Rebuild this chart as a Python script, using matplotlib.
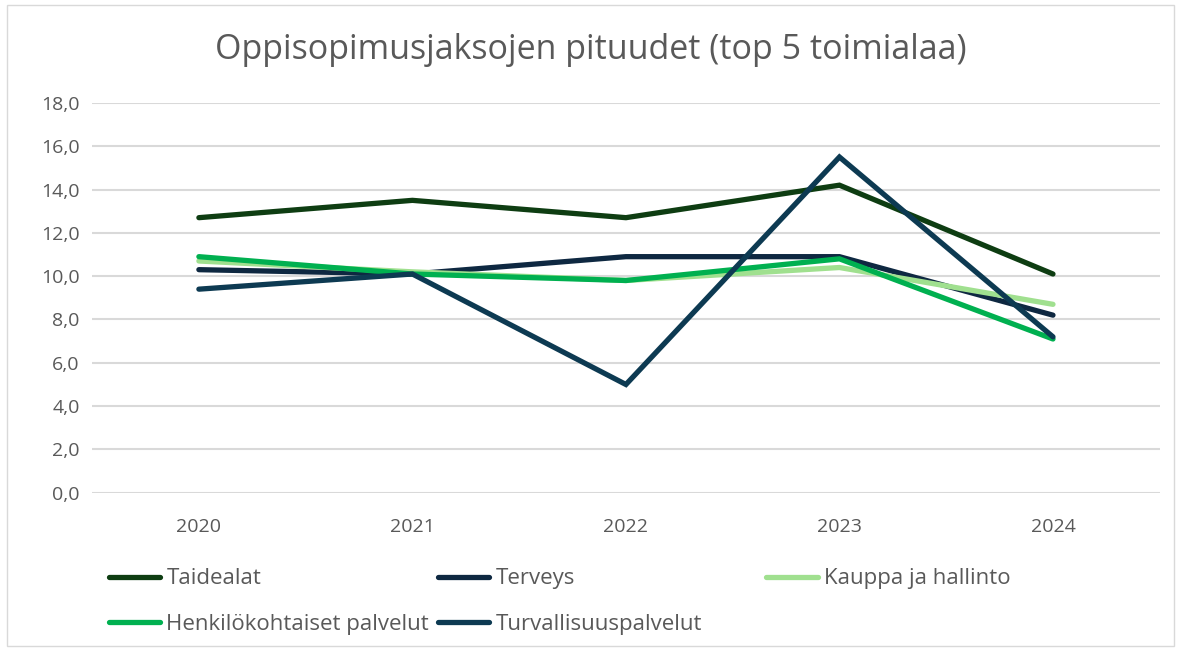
import matplotlib.pyplot as plt
from matplotlib.lines import Line2D
from matplotlib.patches import Rectangle

plt.rcParams['font.family'] = ['Open Sans', 'DejaVu Sans']

years = ['2020', '2021', '2022', '2023', '2024']
taidealat = [12.7, 13.5, 12.7, 14.2, 10.1]
terveys = [10.3, 10.1, 10.9, 10.9, 8.2]
kauppa = [10.7, 10.2, 9.8, 10.4, 8.7]
henkilo = [10.9, 10.1, 9.8, 10.8, 7.1]
turvallisuus = [9.4, 10.1, 5.0, 15.5, 7.2]

series = [
    ('Taidealat', taidealat, '#0e3d12'),
    ('Terveys', terveys, '#0e2841'),
    ('Kauppa ja hallinto', kauppa, '#a0e08f'),
    ('Henkilökohtaiset palvelut', henkilo, '#00b050'),
    ('Turvallisuuspalvelut', turvallisuus, '#0d3a52'),
]

fig = plt.figure(figsize=(11.81, 6.51), dpi=100)
fig.patches.append(Rectangle((0.006, 0.008), 0.988, 0.984, transform=fig.transFigure,
                             fill=False, edgecolor='#d9d9d9', lw=1))
ax = fig.add_axes([0.078, 0.243, 0.904, 0.599])

x = range(len(years))
colors = {}
for name, vals, col in series:
    ax.plot(x, vals, color=col, lw=3.8, solid_capstyle='round', solid_joinstyle='miter')
    colors[name] = col

ax.set_xlim(-0.5, len(years) - 0.5)
ax.set_ylim(0, 18)
ax.set_yticks(range(0, 19, 2))
ax.set_yticklabels([f'{v:.1f}'.replace('.', ',') for v in range(0, 19, 2)])
ax.set_xticks(list(x))
ax.set_xticklabels(years)
ax.tick_params(length=0, labelsize=14, labelcolor='#595959')
ax.tick_params(axis='x', pad=18)
ax.tick_params(axis='y', pad=9)
ax.grid(axis='y', color='#d9d9d9', lw=1.5)
ax.set_axisbelow(True)
for s in ax.spines.values():
    s.set_visible(False)

fig.text(0.5, 0.923, 'Oppisopimusjaksojen pituudet (top 5 toimialaa)', ha='center', va='center',
         fontsize=24.5, color='#595959')

# legend in three fixed columns
cols = [(['Taidealat', 'Henkilökohtaiset palvelut'], 0.092),
        (['Terveys', 'Turvallisuuspalvelut'], 0.371),
        (['Kauppa ja hallinto'], 0.649)]
for names, xpos in cols:
    hs = [Line2D([], [], color=colors[n], lw=3.8, solid_capstyle='round') for n in names]
    leg = fig.legend(hs, names, loc='upper left', bbox_to_anchor=(xpos, 0.127),
                     frameon=False, fontsize=16, handlelength=2.3, handletextpad=0.3,
                     labelspacing=1.1, borderaxespad=0, borderpad=0, labelcolor='#595959')

fig.savefig('out.png', dpi=100)
